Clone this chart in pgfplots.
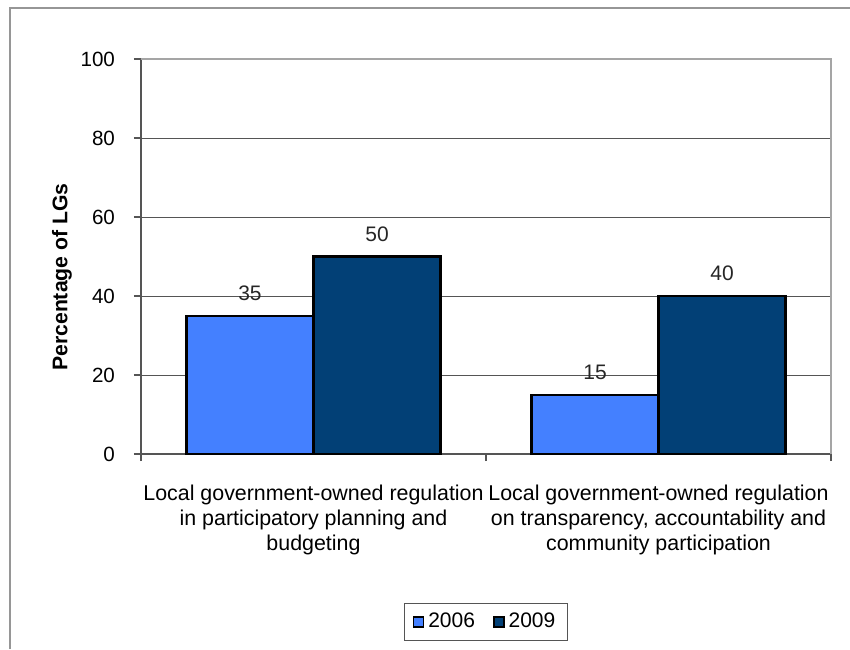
\documentclass[border=0pt]{standalone}
\usepackage{fontspec}
\setmainfont{Liberation Sans}
\usepackage{pgfplots}
\pgfplotsset{compat=1.18}
\definecolor{bar06}{RGB}{68,128,255}
\definecolor{bar09}{RGB}{2,64,118}
\definecolor{gridc}{RGB}{85,85,85}
\definecolor{framec}{RGB}{150,150,150}
\definecolor{edgec}{RGB}{165,165,165}

\begin{document}
\begin{tikzpicture}
\path[use as bounding box] (0pt,0pt) rectangle (425pt,324.5pt);
% outer chart frame
\draw[framec, line width=1pt] (5pt,0pt) -- (5pt,320.5pt) -- (425pt,320.5pt);
\begin{axis}[
  at={(70.5pt,97.5pt)}, anchor=south west,
  scale only axis, width=345pt, height=197.5pt,
  ybar=0pt, bar width=63.5pt,
  xmin=-0.5, xmax=1.5, ymin=0, ymax=100,
  ytick={0,20,...,100},
  xtick={-0.5,0.5,1.5}, xticklabels={},
  extra x ticks={0,1},
  extra x tick labels={%
    {Local government-owned regulation\\in participatory planning and\\budgeting},
    {Local government-owned regulation\\on transparency, accountability and\\community participation}},
  extra x tick style={major tick length=0pt,
    tick label style={align=center, font=\fontsize{10.7}{12.6}\selectfont, yshift=-12pt}},
  axis lines*=left,
  axis line style={gridc, line width=0.7pt},
  tick align=outside, major tick length=3.5pt,
  tick style={gridc, line width=0.7pt},
  ymajorgrids, grid style={gridc, line width=0.5pt},
  /pgf/number format/assume math mode=true,
  tick label style={font=\fontsize{10.3}{12}\selectfont, text=black},
  yticklabel style={xshift=-6pt},
  ylabel={\bfseries Percentage of LGs},
  ylabel style={at={(axis description cs:-0.1145,0.448)}, anchor=center, font=\fontsize{10.6}{12}\selectfont},
  nodes near coords,
  nodes near coords style={font=\fontsize{10.5}{12}\selectfont, text=black!85, yshift=3.5pt},
  legend style={at={(0.5,-0.4253)}, anchor=center, draw=gridc, line width=0.6pt,
    font=\fontsize{10.5}{12}\selectfont, inner xsep=4pt, inner ysep=3pt},
  legend columns=2,
  legend cell align=left,
  /tikz/every even column/.append style={column sep=7pt},
  after end axis/.code={
    \draw[edgec, line width=1pt] (rel axis cs:0,1) -- (rel axis cs:1,1) -- (rel axis cs:1,0);
  },
]
\addplot[fill=bar06, draw=black, line width=1.2pt,
  legend image code/.code={\draw[fill=bar06, draw=black, line width=0.8pt] (0.5pt,-2.5pt) rectangle (5.5pt,2.5pt);}]
  coordinates {(0,35) (1,15)};
\addlegendentry{2006}
\addplot[fill=bar09, draw=black, line width=1.2pt,
  legend image code/.code={\draw[fill=bar09, draw=black, line width=0.8pt] (0.5pt,-2.5pt) rectangle (5.5pt,2.5pt);}]
  coordinates {(0,50) (1,40)};
\addlegendentry{2009}
\end{axis}
\end{tikzpicture}
\end{document}
